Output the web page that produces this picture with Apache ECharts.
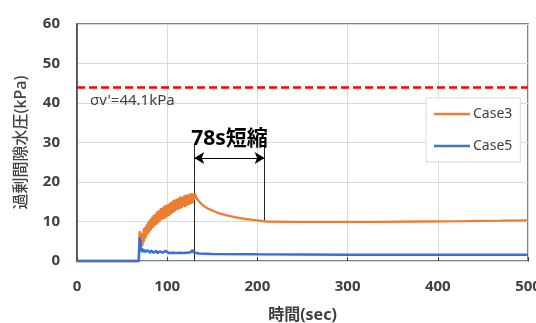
<!DOCTYPE html>
<html>
<head>
<meta charset="utf-8">
<script src="https://cdn.jsdelivr.net/npm/echarts@6/dist/echarts.min.js"></script>
<style>
  html, body { margin: 0; padding: 0; background: #fff; }
  #chart { width: 536px; height: 323px; }
</style>
</head>
<body>
<div id="chart"></div>
<script>
// 時間(sec) と 過剰間隙水圧(kPa) の読み取り値
const case3Time = [0, 68.5, 69, 69.5, 70, 70.5, 71, 71.5, 72, 72.5, 73, 73.5, 74, 74.5, 75, 76, 77, 78, 79, 80,
  81, 82, 83, 84, 85, 86, 87, 88, 89, 90, 91, 92, 93, 94, 95, 96, 97, 98, 99, 100,
  101, 102, 103, 104, 105, 106, 107, 108, 109, 110, 111, 112, 113, 114, 115, 116, 117, 118, 119, 120,
  121, 122, 123, 124, 125, 126, 127, 128, 129, 130, 130.5, 131, 133, 136, 140, 145, 150, 157, 165,
  175, 185, 195, 210, 240, 280, 330, 380, 430, 470, 500]
const case3Value = [0, 0, 5.0, 7.6, 6.0, 7.2, 5.0, 4.0, 5.8, 3.8, 7.0, 4.6, 8.2, 5.0, 8.6, 5.8, 9.2, 6.6, 10.0, 7.2,
  10.6, 7.8, 11.2, 8.4, 11.6, 8.8, 12.0, 9.2, 12.6, 9.6, 12.8, 10.0, 13.4, 10.4, 13.6, 10.6, 14.0, 10.8, 14.2, 11.2,
  14.4, 11.4, 14.8, 11.8, 15.0, 12.2, 15.4, 12.4, 15.6, 12.8, 15.8, 13.0, 16.0, 13.2, 16.4, 13.4, 16.2, 13.8, 16.6, 13.6,
  16.8, 14.0, 16.8, 14.2, 17.0, 14.4, 17.2, 14.6, 17.0, 15.4, 17.1, 16.6, 15.8, 14.9, 14.0, 13.3, 12.8, 12.1, 11.6,
  11.1, 10.7, 10.4, 10.0, 9.9, 9.9, 9.9, 10.0, 10.1, 10.2, 10.3]

const case5Time = [0, 68.5, 69, 69.5, 70, 70.5, 71, 72, 73, 74, 75, 76, 77, 78, 79, 80, 81, 82, 83, 84, 85, 86, 87, 88,
  89, 90, 91, 92, 93, 94, 95, 96, 97, 98, 99, 100, 102, 104, 106, 108, 110, 112, 114, 116, 118, 120,
  122, 124, 126, 128, 129, 130, 131, 135, 150, 200, 300, 400, 500]
const case5Value = [0, 0, 3.0, 6.0, 3.5, 5.2, 2.4, 3.2, 2.2, 2.9, 2.3, 2.8, 2.2, 2.7, 2.3, 2.6, 2.1, 2.7, 2.2, 2.6, 2.1, 2.5, 2.2, 2.6,
  2.0, 2.5, 2.2, 2.4, 2.0, 2.5, 2.1, 2.4, 2.0, 2.6, 2.1, 2.5, 2.0, 2.4, 2.1, 2.5, 2.0, 2.4, 2.1, 2.5, 2.0, 2.4,
  2.1, 2.5, 2.2, 2.8, 2.2, 2.7, 2.1, 1.9, 1.8, 1.7, 1.6, 1.6, 1.6]

const seriesNames = ['Case3', 'Case5']
const sigmaV = 44.1
const sigmaLabel = "σv'=44.1kPa"
const shortenStart = 130
const shortenEnd = 208
const shortenLabel = '78s短縮'
const xTicks = { min: 0, max: 500, interval: 100 }
const yTicks = { min: 0, max: 60, interval: 10 }

const zip = (xs, ys) => xs.map((x, i) => [x, ys[i]])

const font = '"Noto Sans", "Noto Sans CJK JP", sans-serif'
const textColor = '#404040'

const chart = echarts.init(document.getElementById('chart'))
chart.setOption({
  animation: false,
  grid: {
    left: 77, right: 8, top: 24, bottom: 62,
    outerBoundsMode: 'none',
    show: true, borderColor: '#595959', borderWidth: 1.5, z: -1
  },
  legend: {
    data: seriesNames,
    orient: 'vertical',
    left: 426, top: 98,
    icon: 'rect', itemWidth: 36, itemHeight: 2.5, itemGap: 18,
    padding: [9, 8, 9, 8],
    backgroundColor: '#fff', borderColor: '#d9d9d9', borderWidth: 1,
    textStyle: { fontFamily: font, fontSize: 14, color: textColor, padding: [0, 0, 0, -2] }
  },
  xAxis: {
    type: 'value', ...xTicks,
    name: '時間(sec)', nameLocation: 'middle', nameGap: 46,
    nameTextStyle: { fontFamily: font, fontSize: 16, fontWeight: 'bold', color: textColor },
    axisLine: { show: false },
    axisTick: { show: true, inside: true, length: 4, lineStyle: { color: '#404040' } },
    axisLabel: { fontFamily: font, fontSize: 15, fontWeight: 'bold', color: textColor, margin: 18 },
    splitLine: { lineStyle: { color: '#d9d9d9', width: 1 } }
  },
  yAxis: {
    type: 'value', ...yTicks,
    name: '過剰間隙水圧(kPa)', nameLocation: 'middle', nameGap: 48,
    nameTextStyle: { fontFamily: font, fontSize: 16, fontWeight: 500, color: textColor },
    axisLine: { show: true, lineStyle: { color: '#404040', width: 1.5 } },
    axisTick: { show: false },
    axisLabel: { fontFamily: font, fontSize: 15, fontWeight: 'bold', color: textColor, margin: 17 },
    splitLine: { lineStyle: { color: '#d9d9d9', width: 1 } }
  },
  series: [
    {
      name: seriesNames[0], type: 'line', showSymbol: false, clip: false,
      data: zip(case3Time, case3Value),
      lineStyle: { color: '#ed7d31', width: 2.3 }, itemStyle: { color: '#ed7d31' },
      z: 8,
      markLine: {
        silent: true, animation: false,
        data: [
          [{ coord: [shortenStart, 29.4] }, { coord: [shortenStart, 0] }],
          [{ coord: [shortenEnd, 29.4] }, { coord: [shortenEnd, 10.0] }]
        ],
        symbol: ['none', 'none'],
        lineStyle: { color: '#262626', width: 1, type: 'solid' },
        label: { show: false }
      }
    },
    {
      name: seriesNames[1], type: 'line', showSymbol: false, clip: false,
      data: zip(case5Time, case5Value),
      lineStyle: { color: '#3a6fd8', width: 2.5 }, itemStyle: { color: '#4472c4' },
      z: 10
    },
    {
      name: 'sigma', type: 'line', data: [],
      markLine: {
        silent: true, animation: false,
        symbol: ['none', 'none'],
        data: [{ yAxis: sigmaV }],
        lineStyle: { color: '#ff0000', width: 2.5, type: [8, 4] },
        label: {
          show: true, formatter: sigmaLabel, position: 'insideStartBottom',
          distance: [13, 6],
          fontFamily: font, fontSize: 15, color: textColor
        }
      }
    },
    {
      name: 'arrow', type: 'line', data: [],
      markLine: {
        silent: true, animation: false,
        symbol: ['arrow', 'arrow'],
        symbolSize: [9, 10],
        data: [[{ coord: [shortenStart, 26.1] }, { coord: [shortenEnd, 26.1] }]],
        lineStyle: { color: '#000', width: 1, type: 'solid' },
        label: {
          show: true, formatter: shortenLabel, position: 'middle', distance: 8,
          fontFamily: font, fontSize: 21, fontWeight: 'bold', color: '#000'
        }
      }
    }
  ]
})
</script>
</body>
</html>
